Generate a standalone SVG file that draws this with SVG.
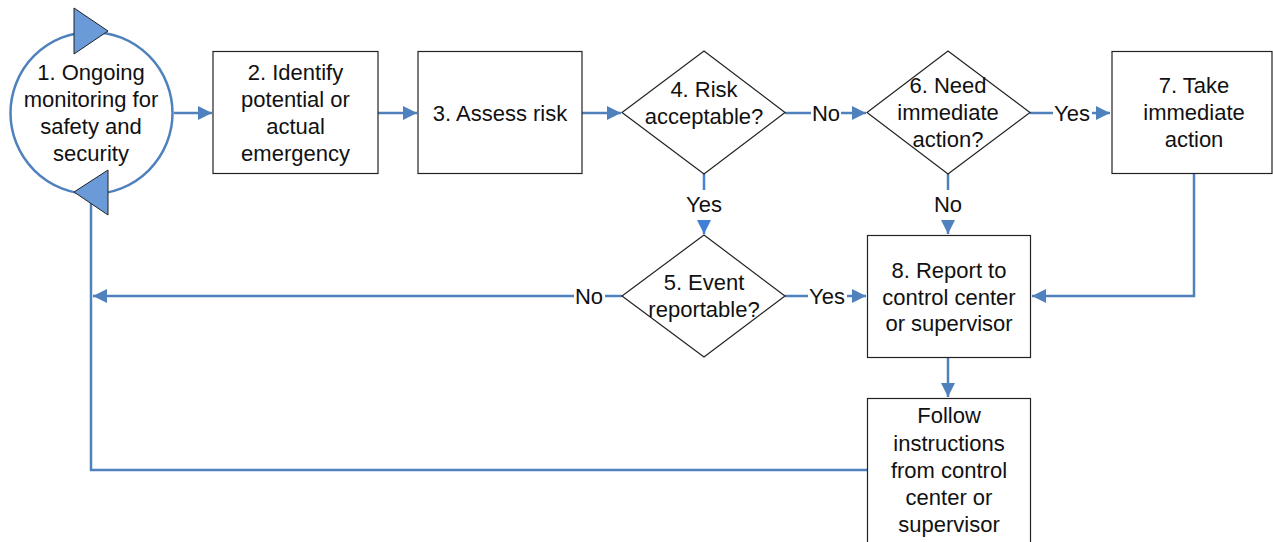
<svg xmlns="http://www.w3.org/2000/svg" width="1273" height="542" viewBox="0 0 1273 542">
<defs>
<style>
.t{font-family:"Liberation Sans",Arial,sans-serif;font-size:22px;fill:#111;text-anchor:middle}
.n{fill:#fff;stroke:#222;stroke-width:1.2}
.c{fill:none;stroke:#4f81bd;stroke-width:2.5}
.cb{fill:none;stroke:#4285d6;stroke-width:2.5}
.tri{fill:#6a9ad8;stroke:#222;stroke-width:1}
</style>
<marker id="a" markerWidth="14" markerHeight="14" viewBox="0 0 14 14" refX="14" refY="7" orient="auto" markerUnits="userSpaceOnUse">
<path d="M0,0 L14,7 L0,14 Z" fill="#4f81bd"/>
</marker>
<marker id="ab" markerWidth="14" markerHeight="14" viewBox="0 0 14 14" refX="14" refY="7" orient="auto" markerUnits="userSpaceOnUse">
<path d="M0,0 L14,7 L0,14 Z" fill="#3f7fd8"/>
</marker>
</defs>
<rect width="1273" height="542" fill="#fff"/>
<g id="connectors">
<path class="c" d="M174,113 H212" marker-end="url(#a)"/>
<path class="c" d="M378,113 H417" marker-end="url(#a)"/>
<path class="c" d="M582,113 H621" marker-end="url(#a)"/>
<path class="c" d="M785,113 H811"/>
<path class="c" d="M841,113 H866" marker-end="url(#a)"/>
<path class="c" d="M1030,113 H1053"/>
<path class="c" d="M1092,113 H1110" marker-end="url(#a)"/>
<path class="cb" d="M704,174 V190"/>
<path class="cb" d="M704,220 V234" marker-end="url(#ab)"/>
<path class="c" d="M948,174 V190"/>
<path class="c" d="M948,220 V234" marker-end="url(#a)"/>
<path class="c" d="M1194,174 V296 H1032" marker-end="url(#a)"/>
<path class="c" d="M785,296 H808"/>
<path class="c" d="M847,296 H866" marker-end="url(#a)"/>
<path class="c" d="M622,296 H605"/>
<path class="c" d="M574,296 H93" marker-end="url(#a)"/>
<path class="c" d="M948,358 V397" marker-end="url(#a)"/>
<path class="c" d="M867,470 H91 V200"/>
<text class="t" x="826" y="121">No</text>
<text class="t" x="1072" y="121">Yes</text>
<text class="t" x="704" y="212">Yes</text>
<text class="t" x="948" y="212">No</text>
<text class="t" x="589" y="304">No</text>
<text class="t" x="827" y="304">Yes</text>
</g>
<g id="n1">
<circle cx="91.5" cy="113" r="81" fill="#fff" stroke="#4f81bd" stroke-width="2.5"/>
<polygon class="tri" points="74,8 74,54 108,31"/>
<polygon class="tri" points="108,170 108,215 74,192"/>
<text class="t" x="91" y="80">1. Ongoing</text>
<text class="t" x="91" y="107">monitoring for</text>
<text class="t" x="91" y="134">safety and</text>
<text class="t" x="91" y="161">security</text>
</g>
<g id="n2">
<rect class="n" x="213" y="51.5" width="165" height="122"/>
<text class="t" x="295.5" y="80">2. Identify</text>
<text class="t" x="295.5" y="107">potential or</text>
<text class="t" x="295.5" y="134">actual</text>
<text class="t" x="295.5" y="161">emergency</text>
</g>
<g id="n3">
<rect class="n" x="418" y="51.5" width="164" height="122"/>
<text class="t" x="500" y="121">3. Assess risk</text>
</g>
<g id="n4">
<polygon class="n" points="704,51 785,112.5 704,174 622,112.5"/>
<text class="t" x="704" y="97">4. Risk</text>
<text class="t" x="704" y="124">acceptable?</text>
</g>
<g id="n6">
<polygon class="n" points="948,51 1030,112.5 948,174 867,112.5"/>
<text class="t" x="948" y="93">6. Need</text>
<text class="t" x="948" y="120">immediate</text>
<text class="t" x="948" y="147">action?</text>
</g>
<g id="n7">
<rect class="n" x="1112" y="51.5" width="160" height="122"/>
<text class="t" x="1194" y="93">7. Take</text>
<text class="t" x="1194" y="120">immediate</text>
<text class="t" x="1194" y="147">action</text>
</g>
<g id="n5">
<polygon class="n" points="704,235 785,296 704,357 622,296"/>
<text class="t" x="704" y="290">5. Event</text>
<text class="t" x="704" y="317">reportable?</text>
</g>
<g id="n8">
<rect class="n" x="867.5" y="235.5" width="163" height="122"/>
<text class="t" x="949" y="278">8. Report to</text>
<text class="t" x="949" y="305">control center</text>
<text class="t" x="949" y="331">or supervisor</text>
</g>
<g id="n9">
<rect class="n" x="867.5" y="398.5" width="163" height="160"/>
<text class="t" x="949" y="423">Follow</text>
<text class="t" x="949" y="451">instructions</text>
<text class="t" x="949" y="478">from control</text>
<text class="t" x="949" y="505">center or</text>
<text class="t" x="949" y="532">supervisor</text>
</g>
</svg>
